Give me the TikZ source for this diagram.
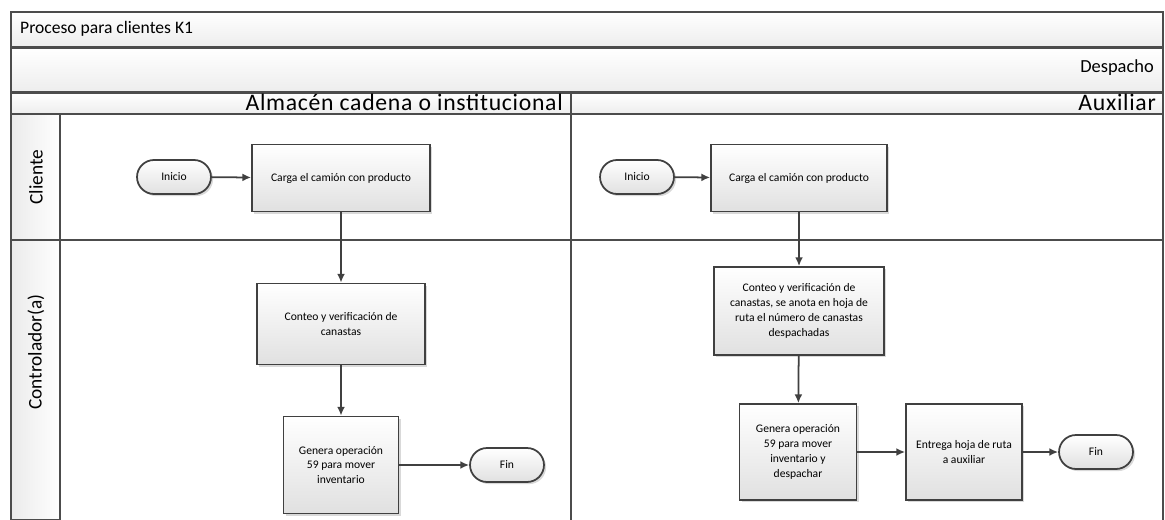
\documentclass[tikz,border=0pt]{standalone}
\usepackage{fontspec}
\setmainfont{Carlito}
\usetikzlibrary{arrows.meta, positioning, shadows, shapes.misc}

\tikzset{
  bar/.style={draw=black!70, line width=1pt, top color=white, bottom color=black!7},
  colhead/.style={anchor=east, font=\fontsize{13.5}{15}\selectfont\addfontfeature{LetterSpace=3}},
  lanelabel/.style={rotate=90, font=\fontsize{11}{12}\selectfont},
  task/.style={draw=black!75, line width=1pt, top color=white, bottom color=black!12,
    drop shadow={shadow xshift=1.2pt, shadow yshift=-1.2pt, opacity=0.3},
    align=center, inner sep=2pt, font=\fontsize{6.6}{8.5}\selectfont},
  terminal/.style={task, rounded rectangle, minimum width=1.62cm, minimum height=0.68cm},
  flow/.style={-{Latex[length=5pt,width=4.5pt]}, draw=black!75, line width=1pt},
}

\begin{document}
\begin{tikzpicture}[x=0.02cm, y=-0.02cm]
    \useasboundingbox (0,0) rectangle (1165,520);

    % Pool header
    \draw[bar] (11,12) rectangle (1163,47);
    \node[anchor=west, font=\fontsize{10}{12}\selectfont] (pool) at (14,29) {Proceso para clientes K1};
    \draw[bar] (11,48) rectangle (1163,92);
    \node[anchor=east, font=\fontsize{10.5}{12}\selectfont] (despacho) at (1160,68) {Despacho};

    % Column headers
    \draw[bar] (11,93) rectangle (571,114);
    \draw[bar] (571,93) rectangle (1163,114);
    \node[colhead] (almacen) at (569,102) {Almacén cadena o institucional};
    \node[colhead] (auxiliar) at (1162,102) {Auxiliar};

    % Lane labels
    \draw[draw=black!70, line width=1pt, left color=black!8, right color=white] (11,114) rectangle (60,240);
    \draw[draw=black!70, line width=1pt, left color=black!8, right color=white] (11,240) rectangle (60,520);
    \node[lanelabel] (cliente) at (36,177) {Cliente};
    \node[lanelabel] (controlador) at (36,352) {Controlador(a)};

    % Lane borders
    \draw[draw=black!70, line width=1pt] (60,114) -- (60,520);
    \draw[draw=black!70, line width=1pt] (571,114) -- (571,520);
    \draw[draw=black!70, line width=1pt] (1163,114) -- (1163,520);
    \draw[draw=black!70, line width=1.2pt] (60,240) -- (1163,240);

    % Almacen cadena o institucional
    \node[terminal] (ini1) at (174,177) {Inicio};
    \node[task, minimum width=3.56cm, minimum height=1.34cm] (carga1) at (341,178) {Carga el camión con producto};
    \node[task, minimum width=3.36cm, minimum height=1.62cm] (conteo1) at (341,324) {Conteo y verificación de\\canastas};
    \node[task, minimum width=2.30cm, minimum height=1.94cm] (genera1) at (341,465) {Genera operación\\59 para mover\\inventario};
    \node[terminal] (fin1) at (507,465) {Fin};

    \draw[flow] (ini1) -- (carga1);
    \draw[flow] (carga1) -- (conteo1);
    \draw[flow] (conteo1) -- (genera1);
    \draw[flow] (genera1) -- (fin1);

    % Auxiliar
    \node[terminal] (ini2) at (637,177) {Inicio};
    \node[task, minimum width=3.52cm, minimum height=1.34cm] (carga2) at (799,178) {Carga el camión con producto};
    \node[task, minimum width=3.40cm, minimum height=1.76cm] (conteo2) at (799,311) {Conteo y verificación de\\canastas, se anota en hoja de\\ruta el número de canastas\\despachadas};
    \node[task, minimum width=2.34cm, minimum height=1.92cm] (genera2) at (798,452) {Genera operación\\59 para mover\\inventario y\\despachar};
    \node[task, minimum width=2.32cm, minimum height=1.92cm] (entrega2) at (964,452) {Entrega hoja de ruta\\a auxiliar};
    \node[terminal] (fin2) at (1096,452) {Fin};

    \draw[flow] (ini2) -- (carga2);
    \draw[flow] (carga2) -- (conteo2);
    \draw[flow] (conteo2) -- (genera2);
    \draw[flow] (genera2) -- (entrega2);
    \draw[flow] (entrega2) -- (fin2);
\end{tikzpicture}
\end{document}
